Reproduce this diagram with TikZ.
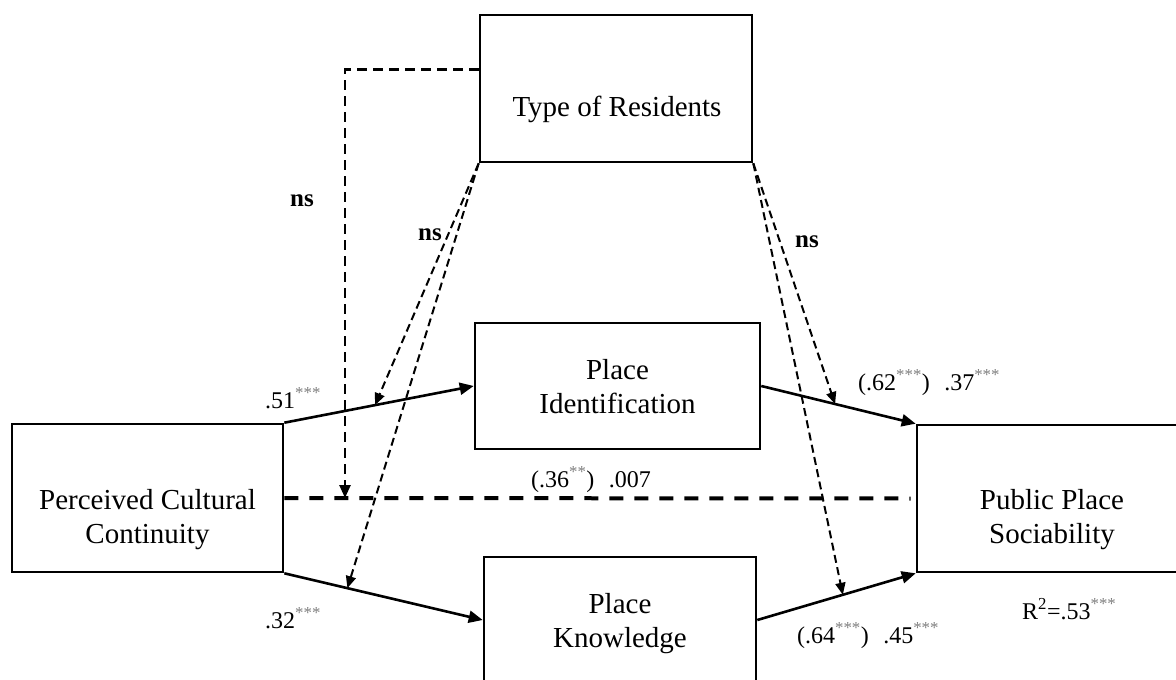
\documentclass[tikz,border=0pt]{standalone}
\usepackage{fontspec}
\setmainfont{Liberation Serif}
\usetikzlibrary{arrows.meta,calc}
\newcommand\sstar[1]{\textsuperscript{\textcolor{gray}{#1}}}
\begin{document}
\begin{tikzpicture}[x=1pt,y=-1pt,
  box/.style={draw=black,line width=2.6pt,inner sep=0pt},
  boxtext/.style={font=\fontsize{29}{34}\selectfont,align=center,inner sep=0pt,anchor=base},
  num/.style={font=\fontsize{24}{28}\selectfont,inner sep=0pt,anchor=base west},
  nslbl/.style={font=\fontsize{25}{28}\selectfont\bfseries,inner sep=0pt,anchor=base west},
  solidarrow/.style={line width=2.6pt,-{Triangle[length=14pt,width=12pt]}},
  thickdash/.style={line width=4pt,dash pattern=on 14pt off 11pt},
  meddash/.style={line width=2.5pt,dash pattern=on 10pt off 6pt,-{Triangle[length=13pt,width=11pt]}},
  thindash/.style={line width=2pt,dash pattern=on 8pt off 4.5pt,-{Triangle[length=12pt,width=10pt]}}]
\useasboundingbox (0,0) rectangle (1176,680);
\fill[white] (0,0) rectangle (1176,680);

% boxes
\node[box,minimum width=272pt,minimum height=147pt] (tr) at (616,88.5) {};
\node[box,minimum width=285pt,minimum height=126pt] (pi) at (617.5,386) {};
\node[box,minimum width=271pt,minimum height=148pt] (pcc) at (147.5,498) {};
\node[box,minimum width=272pt,minimum height=126pt] (pk) at (620,620) {};
\node[box,minimum width=272pt,minimum height=147pt] (pps) at (1053,498.5) {};

% box texts (anchor = baseline of last line)
\node[boxtext] (trt) at (617,116) {Type of Residents};
\node[boxtext] (pit) at (617.5,413) {Place\\Identification};
\node[boxtext] (pcct) at (147.5,543) {Perceived Cultural\\Continuity};
\node[boxtext] (pkt) at (620,647) {Place\\Knowledge};
\node[boxtext] (ppst) at (1052,543) {Public Place\\Sociability};

% main paths
\draw[solidarrow] (pcc.north east) -- (pi.west);
\draw[solidarrow] (pcc.south east) -- (pk.west);
\draw[solidarrow] (pi.east) -- (pps.north west);
\draw[solidarrow] (pk.east) -- (pps.south west);
\draw[thickdash] (pcc.east) -- ([xshift=-5pt]pps.west);

% target points on paths
\path (pcc.north east) -- (pi.west) coordinate[pos=0.479] (t1);
\path (pcc.south east) -- (pk.west) coordinate[pos=0.318] (t2);
\path (pi.east) -- (pps.north west) coordinate[pos=0.478] (t3);
\path (pk.east) -- (pps.south west) coordinate[pos=0.54] (t4);
\coordinate (trl) at ($(tr.north west)+(0,56)$);
\coordinate (m1) at (345,498);

% moderation paths
\draw[meddash] (trl) -| (m1);
\draw[thindash] (tr.south west) -- (t1);
\draw[thindash] (tr.south west) -- (t2);
\draw[thindash] (tr.south east) -- (t3);
\draw[thindash] (tr.south east) -- (t4);

% labels
\node[nslbl] (ns1) at (290,206) {ns};
\node[nslbl] (ns2) at (418,240) {ns};
\node[nslbl] (ns3) at (795,247) {ns};
\node[num] (l51) at (265,408) {.51\sstar{***}};
\node[num] (l32) at (265,628) {.32\sstar{***}};
\node[num] (l62) at (858,390) {(.62\sstar{***})\hspace{0.6em}.37\sstar{***}};
\node[num] (l36) at (531,487) {(.36\sstar{**})\hspace{0.6em}.007};
\node[num] (l64) at (797,643) {(.64\sstar{***})\hspace{0.6em}.45\sstar{***}};
\node[num] (r2) at (1022,619) {R\textsuperscript{2}=.53\sstar{***}};
\end{tikzpicture}
\end{document}
